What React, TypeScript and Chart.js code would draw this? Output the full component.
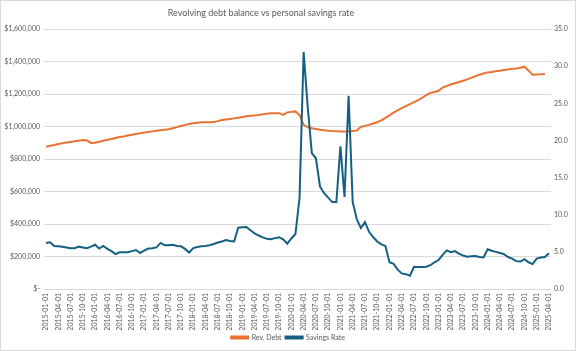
import React, { useEffect, useRef } from 'react';
import { Chart, registerables } from 'chart.js';

Chart.register(...registerables);

const TITLE = 'Revolving debt balance vs personal savings rate';
const YEARS = [2015, 2016, 2017, 2018, 2019, 2020, 2021, 2022, 2023, 2024, 2025];
const MONTHS = ['01', '02', '03', '04', '05', '06', '07', '08', '09', '10', '11', '12'];
const LAST_MONTH_COUNT = 4; // 2025 runs Jan..Apr

const categories: string[] = [];
YEARS.forEach((y) => {
  const n = y === 2025 ? LAST_MONTH_COUNT : 12;
  for (let m = 0; m < n; m++) categories.push(`${y}-${MONTHS[m]}-01`);
});

// Revolving debt balance ($)
const revDebt = [
  876000, 881000, 886000, 892000, 897000, 901000, 905000, 909000, 913000, 917000, 914000, 899000,
  900000, 906000, 912000, 918000, 923000, 929000, 935000, 939000, 944000, 949000, 954000, 958000,
  963000, 966000, 970000, 974000, 977000, 980000, 983000, 989000, 996000, 1003000, 1010000, 1016000,
  1020000, 1023000, 1026000, 1026000, 1026000, 1027000, 1033000, 1040000, 1043000, 1046000, 1050000, 1054000,
  1058000, 1063000, 1066000, 1068000, 1071000, 1075000, 1079000, 1081000, 1081000, 1082000, 1071000, 1087000,
  1090000, 1093000, 1070000, 1010000, 996000, 989000, 985000, 980000, 977000, 974000, 972000, 971000,
  969000, 969000, 970000, 973000, 975000, 998000, 1004000, 1010000, 1018000, 1026000, 1038000, 1053000,
  1068000, 1085000, 1100000, 1113000, 1126000, 1138000, 1150000, 1162000, 1177000, 1193000, 1207000, 1212000,
  1220000, 1240000, 1250000, 1258000, 1266000, 1274000, 1282000, 1290000, 1299000, 1310000, 1318000, 1326000,
  1333000, 1336000, 1340000, 1343000, 1347000, 1351000, 1356000, 1357000, 1361000, 1368000, 1345000, 1318000,
  1320000, 1321000, 1323000,
];

// Personal savings rate (%)
const savingsRate = [
  6.2, 6.3, 5.8, 5.75, 5.7, 5.6, 5.5, 5.5, 5.7, 5.6, 5.5, 5.7,
  5.95, 5.45, 5.8, 5.4, 5.1, 4.7, 4.95, 4.95, 4.95, 5.1, 5.25, 4.85,
  5.15, 5.45, 5.5, 5.6, 6.2, 5.9, 5.9, 5.95, 5.8, 5.75, 5.4, 4.9,
  5.5, 5.65, 5.75, 5.8, 5.9, 6.05, 6.25, 6.4, 6.6, 6.45, 6.4, 8.25,
  8.3, 8.35, 7.9, 7.5, 7.2, 6.95, 6.75, 6.7, 6.85, 6.95, 6.7, 6.1,
  6.8, 7.4, 12.3, 31.9, 24.5, 18.3, 17.6, 13.8, 12.9, 12.3, 11.7, 11.7,
  19.2, 12.4, 26.0, 11.7, 9.4, 8.2, 9.0, 7.7, 7.0, 6.4, 6.0, 5.8,
  3.6, 3.4, 2.6, 2.1, 2.0, 1.8, 3.0, 2.95, 2.95, 3.0, 3.2, 3.6,
  3.9, 4.6, 5.2, 4.95, 5.1, 4.75, 4.5, 4.35, 4.4, 4.45, 4.3, 4.25,
  5.35, 5.15, 5.0, 4.85, 4.7, 4.3, 4.1, 3.75, 3.7, 4.0, 3.6, 3.35,
  4.1, 4.25, 4.3, 4.8,
];

const LEFT_TICKS_MAX = 1600000;
const LEFT_STEP = 200000;
const RIGHT_TICKS_MAX = 35;
const RIGHT_STEP = 5;

const ORANGE = '#E97132';
const BLUE = '#156082';
const TEXT = '#595959';
const GRID = '#D9D9D9';
const FONT = 'Lato, "Open Sans", sans-serif';

const frame = {
  id: 'frame',
  beforeDraw(chart: any) {
    const { ctx, width, height } = chart;
    ctx.save();
    ctx.fillStyle = '#ffffff';
    ctx.fillRect(0, 0, width, height);
    ctx.restore();
  },
  afterDraw(chart: any) {
    const { ctx, width, height } = chart;
    ctx.save();
    ctx.strokeStyle = GRID;
    ctx.lineWidth = 1;
    ctx.strokeRect(0.5, 0.5, width - 1, height - 1);
    ctx.fillStyle = TEXT;
    ctx.font = `9px ${FONT}`;
    ctx.textAlign = 'center';
    ctx.textBaseline = 'middle';
    ctx.fillText(TITLE, 261, 13);
    ctx.restore();
  },
};

export default function App() {
  const ref = useRef<HTMLCanvasElement | null>(null);
  useEffect(() => {
    if (!ref.current) return;
    const chart = new Chart(ref.current, {
      type: 'line',
      data: {
        labels: categories,
        datasets: [
          {
            label: 'Rev. Debt',
            data: revDebt,
            borderColor: ORANGE,
            backgroundColor: ORANGE,
            borderWidth: 2,
            pointRadius: 0,
            tension: 0,
            yAxisID: 'y',
            order: 1,
          },
          {
            label: 'Savings Rate',
            data: savingsRate,
            borderColor: BLUE,
            backgroundColor: BLUE,
            borderWidth: 2,
            pointRadius: 0,
            tension: 0,
            yAxisID: 'y1',
            order: 0,
          },
        ],
      },
      options: {
        responsive: false,
        animation: false,
        devicePixelRatio: 1,
        layout: { padding: { top: 29, left: 0, right: 0, bottom: 0 } },
        plugins: {
          title: { display: false },
          tooltip: { enabled: false },
          legend: {
            position: 'bottom',
            labels: {
              boxWidth: 17,
              boxHeight: 2,
              padding: 4,
              color: TEXT,
              font: { size: 7, family: FONT },
              sort: (a: any, b: any) => a.datasetIndex - b.datasetIndex,
            },
          },
        },
        scales: {
          x: {
            type: 'category',
            offset: true,
            grid: { display: false, drawTicks: false },
            border: { display: false },
            ticks: {
              autoSkip: false,
              minRotation: 90,
              maxRotation: 90,
              padding: 4,
              color: TEXT,
              font: { size: 7, family: FONT },
              callback: (_v: any, i: number) => (i % 3 === 0 ? categories[i] : ''),
            },
            afterFit: (s: any) => {
              s.height = 41;
            },
          },
          y: {
            position: 'left',
            min: 0,
            max: LEFT_TICKS_MAX,
            grid: { color: GRID, drawTicks: false },
            border: { display: false },
            ticks: {
              stepSize: LEFT_STEP,
              padding: 4,
              color: TEXT,
              font: { size: 7, family: FONT },
              callback: (v: any) => (Number(v) === 0 ? '$-' : '$' + Number(v).toLocaleString('en-US')),
            },
            afterFit: (s: any) => {
              s.width = 44;
            },
          },
          y1: {
            position: 'right',
            min: 0,
            max: RIGHT_TICKS_MAX,
            grid: { display: false, drawTicks: false },
            border: { display: false },
            ticks: {
              stepSize: RIGHT_STEP,
              padding: 3,
              color: TEXT,
              font: { size: 7, family: FONT },
              callback: (v: any) => Number(v).toFixed(1),
            },
            afterFit: (s: any) => {
              s.width = 25;
            },
          },
        },
      },
      plugins: [frame],
    });
    return () => chart.destroy();
  }, []);
  return (
    <div style={{ position: 'fixed', left: 0, top: 0, width: 576, height: 351, background: '#fff' }}>
      <canvas ref={ref} width={576} height={351} />
    </div>
  );
}
